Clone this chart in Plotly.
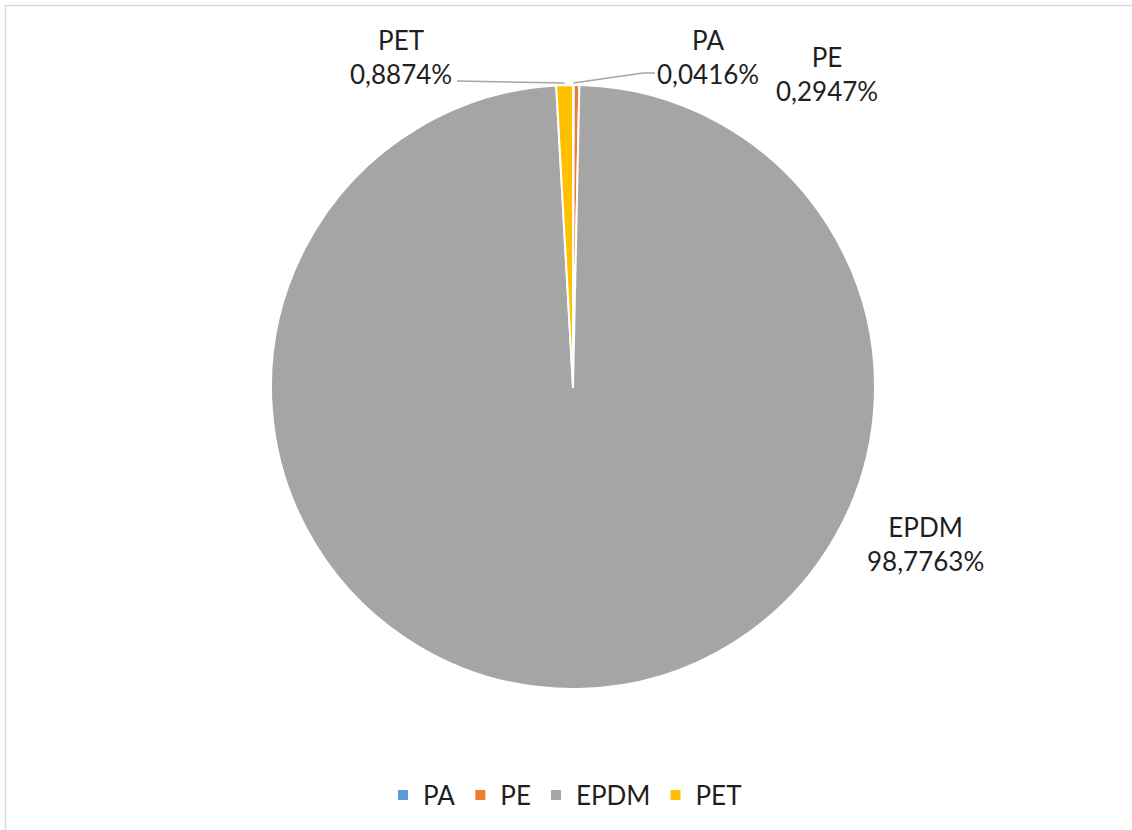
import math
import plotly.graph_objects as go

# ---- data ----
categories = ["PA", "PE", "EPDM", "PET"]
values = [0.0416, 0.2947, 98.7763, 0.8874]
value_labels = ["0,0416%", "0,2947%", "98,7763%", "0,8874%"]
colors = ["#5B9BD5", "#ED7D31", "#A5A5A5", "#FFC000"]

# ---- layout constants (pixels) ----
W, H = 1132, 830
CX, CY, R = 573, 387, 302
FONT = "Lato"
FS = 26
TXT = "#1f1f1f"

# label centres (pixels from top-left) and leader-line elbow points
label_pos = {
    "PA": (708, 57),
    "PE": (827, 74),
    "EPDM": (925, 544),
    "PET": (401, 57),
}
leaders = {
    "PA": [(643, 73), (655, 73)],
    "PET": [(457, 81)],
}

def px(x):
    return x / W

def py(y):
    return 1 - y / H

fig = go.Figure(go.Pie(
    labels=categories,
    values=values,
    sort=False,
    direction="clockwise",
    rotation=0,
    marker=dict(colors=colors, line=dict(color="white", width=2)),
    textinfo="none",
    hoverinfo="label+percent",
    domain=dict(x=[px(CX - R), px(CX + R)], y=[py(CY + R), py(CY - R)]),
))

annotations = []
shapes = []
total = sum(values)
cum = 0.0
for cat, v, lab in zip(categories, values, value_labels):
    mid = (cum + v / 2) / total * 2 * math.pi
    cum += v
    lx, ly = label_pos[cat]
    annotations.append(dict(
        x=px(lx), y=py(ly), xref="paper", yref="paper",
        text=f"{cat}<br>{lab}", showarrow=False,
        font=dict(family=FONT, size=FS, color=TXT),
        align="center", xanchor="center", yanchor="middle",
    ))
    if cat in leaders:
        tx = CX + (R + 2) * math.sin(mid)
        ty = CY - (R + 2) * math.cos(mid)
        pts = [(tx, ty)] + leaders[cat]
        path = "M " + " L ".join(f"{px(a):.5f},{py(b):.5f}" for a, b in pts)
        shapes.append(dict(type="path", path=path, xref="paper", yref="paper",
                           line=dict(color="#A6A6A6", width=1.5)))

# chart border
shapes.append(dict(type="rect", xref="paper", yref="paper",
                   x0=px(5.5), y0=-0.02, x1=1.02, y1=py(5.5),
                   line=dict(color="#D9D9D9", width=1.5), layer="below"))

fig.update_layout(
    width=W, height=H,
    margin=dict(l=0, r=0, t=0, b=0),
    paper_bgcolor="white",
    plot_bgcolor="white",
    font=dict(family=FONT, size=FS, color=TXT),
    showlegend=True,
    legend=dict(orientation="h", x=px(565), xanchor="center",
                y=py(795), yanchor="middle",
                font=dict(family=FONT, size=FS, color=TXT),
                itemwidth=30, traceorder="normal"),
    annotations=annotations,
    shapes=shapes,
)

fig.write_html("out.html")
